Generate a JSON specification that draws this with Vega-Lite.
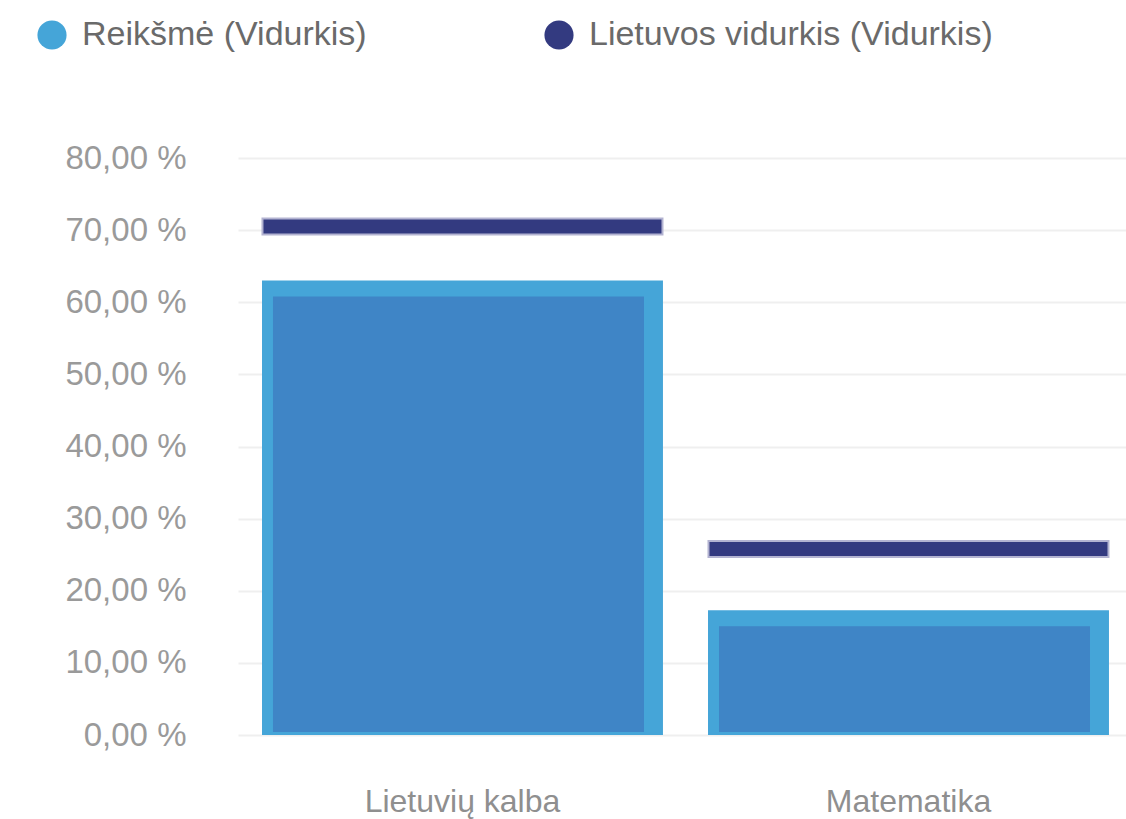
{
  "$schema": "https://vega.github.io/schema/vega-lite/v6.json",
  "width": 888,
  "height": 577,
  "autosize": {"type": "none"},
  "padding": {"left": 238, "top": 158, "right": 0, "bottom": 84},
  "background": "#ffffff",
  "config": {
    "view": {"stroke": null},
    "font": "Liberation Sans"
  },
  "data": {
    "values": [
      {"subject": "Lietuvių kalba", "reiksme": 63.0, "vidurkis": 70.5},
      {"subject": "Matematika", "reiksme": 17.3, "vidurkis": 25.8}
    ]
  },
  "encoding": {
    "x": {
      "field": "subject",
      "type": "nominal",
      "sort": null,
      "scale": {"paddingInner": 0.101, "paddingOuter": 0.046, "align": 0.585},
      "axis": {
        "title": null,
        "labelAngle": 0,
        "ticks": false,
        "domain": false,
        "labelPadding": 51,
        "labelFontSize": 32,
        "labelLimit": 420,
        "labelColor": "#8f8f8f",
        "labelFont": "Liberation Sans"
      }
    }
  },
  "layer": [
    {
      "mark": {"type": "bar"},
      "encoding": {
        "y": {
          "field": "reiksme",
          "type": "quantitative",
          "scale": {"domain": [0, 80], "nice": false},
          "axis": {
            "title": null,
            "values": [0, 10, 20, 30, 40, 50, 60, 70, 80],
            "labelExpr": "replace(format(datum.value, '.2f'), '.', ',') + ' %'",
            "ticks": false,
            "domain": false,
            "labelPadding": 52,
            "labelFontSize": 33,
            "labelColor": "#9a9a9a",
            "gridColor": "#efefef",
            "gridWidth": 2
          }
        },
        "color": {
          "datum": "Reikšmė (Vidurkis)",
          "type": "nominal",
          "scale": {
            "domain": ["Reikšmė (Vidurkis)", "Lietuvos vidurkis (Vidurkis)"],
            "range": ["#45a5d8", "#333a80"]
          },
          "legend": {
            "title": null,
            "orient": "none",
            "direction": "horizontal",
            "legendX": -203,
            "legendY": -140,
            "padding": 0,
            "symbolType": "circle",
            "symbolSize": 850,
            "symbolStrokeWidth": 0,
            "labelFontSize": 34,
            "labelColor": "#6a6a6a",
            "labelOffset": 13,
            "columnPadding": 175,
            "labelLimit": 500,
            "encode": {
              "symbols": {
                "update": {
                  "fill": {"signal": "datum.value === 'Reikšmė (Vidurkis)' ? '#2e9bd6' : '#1f2776'"},
                  "opacity": {"value": 1}
                }
              }
            }
          }
        }
      }
    },
    {
      "mark": {
        "type": "bar",
        "fill": "#3f85c6",
        "width": 371,
        "xOffset": -4,
        "yOffset": 16,
        "y2Offset": -3
      },
      "encoding": {
        "y": {"field": "reiksme", "type": "quantitative"},
        "y2": {"datum": 0}
      }
    },
    {
      "mark": {
        "type": "tick",
        "thickness": 16,
        "size": 400,
        "stroke": "#b3b3d1",
        "strokeWidth": 2,
        "opacity": 1
      },
      "encoding": {
        "y": {"field": "vidurkis", "type": "quantitative"},
        "color": {"datum": "Lietuvos vidurkis (Vidurkis)", "type": "nominal"}
      }
    }
  ]
}
